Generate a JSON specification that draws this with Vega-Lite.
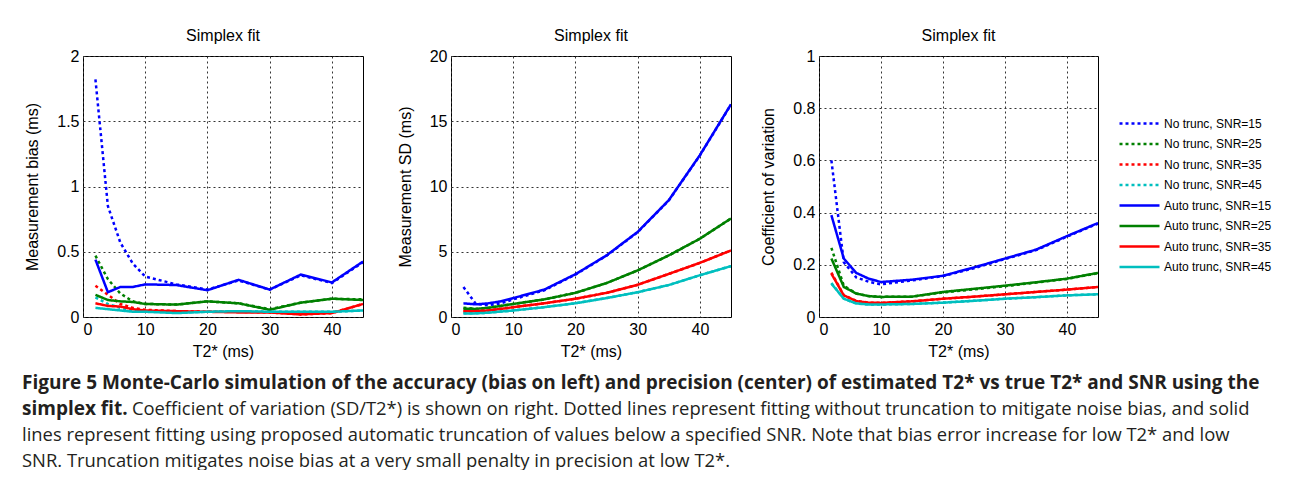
{
  "$schema": "https://vega.github.io/schema/vega-lite/v6.json",
  "background": "white",
  "padding": {"left": 22, "top": 27, "right": 0, "bottom": 0},
  "spacing": 88,
  "bounds": "flush",
  "title": {
    "text": ["Figure 5 Monte-Carlo simulation of the accuracy (bias on left) and precision (center) of estimated T2* vs true T2* and SNR using the", "simplex fit."],
    "subtitle": ["\u200b\u00a0\u00a0\u00a0\u00a0\u00a0\u00a0\u00a0\u00a0\u00a0\u00a0\u00a0\u00a0\u00a0\u00a0\u00a0\u00a0\u00a0\u00a0\u00a0\u00a0\u00a0\u00a0\u00a0Coefficient of variation (SD/T2*) is shown on right. Dotted lines represent fitting without truncation to mitigate noise bias, and solid", "lines represent fitting using proposed automatic truncation of values below a specified SNR. Note that bias error increase for low T2* and low", "SNR. Truncation mitigates noise bias at a very small penalty in precision at low T2*."],
    "orient": "bottom",
    "anchor": "start",
    "frame": "group",
    "dx": -61,
    "offset": 14,
    "font": "Open Sans",
    "fontSize": 19,
    "fontWeight": "bold",
    "color": "#231f20",
    "lineHeight": 26,
    "subtitleFont": "Open Sans",
    "subtitleFontSize": 18.4,
    "subtitleFontWeight": "normal",
    "subtitleColor": "#231f20",
    "subtitleLineHeight": 26,
    "subtitlePadding": -19
  },
  "config": {
    "font": "Liberation Sans",
    "view": {"stroke": "black", "strokeWidth": 1},
    "title": {"font": "Liberation Sans", "fontSize": 16, "fontWeight": "normal", "color": "black", "offset": 4},
    "axis": {
      "domain": false,
      "ticks": false,
      "labelFont": "Liberation Sans",
      "labelFontSize": 16,
      "labelColor": "black",
      "labelPadding": 4,
      "titleFont": "Liberation Sans",
      "titleFontSize": 16,
      "titleFontWeight": "normal",
      "titleColor": "black",
      "grid": true,
      "gridColor": "#333333",
      "gridDash": [2, 3],
      "gridWidth": 1
    },
    "axisX": {"titlePadding": 6},
    "axisY": {"titlePadding": 16},
    "legend": {
      "orient": "none",
      "legendX": 1050,
      "legendY": 61,
      "symbolType": "M-4,0H4",
      "symbolSize": 100,
      "symbolStrokeWidth": 2.5,
      "labelFont": "Liberation Sans",
      "labelFontSize": 12,
      "labelColor": "black",
      "labelOffset": 18,
      "rowPadding": 7.5
    }
  },
  "datasets": {
    "sim": [
      {"s": "No trunc, SNR=15", "t": 2, "bias": 1.82, "sd": 2.3, "cv": 0.6},
      {"s": "No trunc, SNR=15", "t": 4, "bias": 0.85, "sd": 1.0, "cv": 0.21},
      {"s": "No trunc, SNR=15", "t": 6, "bias": 0.57, "sd": 0.9, "cv": 0.152},
      {"s": "No trunc, SNR=15", "t": 8, "bias": 0.41, "sd": 1.05, "cv": 0.135},
      {"s": "No trunc, SNR=15", "t": 10, "bias": 0.31, "sd": 1.35, "cv": 0.125},
      {"s": "No trunc, SNR=15", "t": 15, "bias": 0.25, "sd": 2.05, "cv": 0.14},
      {"s": "No trunc, SNR=15", "t": 20, "bias": 0.21, "sd": 3.25, "cv": 0.157},
      {"s": "No trunc, SNR=15", "t": 25, "bias": 0.28, "sd": 4.7, "cv": 0.187},
      {"s": "No trunc, SNR=15", "t": 30, "bias": 0.21, "sd": 6.5, "cv": 0.222},
      {"s": "No trunc, SNR=15", "t": 35, "bias": 0.32, "sd": 8.93, "cv": 0.256},
      {"s": "No trunc, SNR=15", "t": 40, "bias": 0.26, "sd": 12.38, "cv": 0.308},
      {"s": "No trunc, SNR=15", "t": 45, "bias": 0.42, "sd": 16.28, "cv": 0.358},
      {"s": "No trunc, SNR=25", "t": 2, "bias": 0.47, "sd": 0.7, "cv": 0.265},
      {"s": "No trunc, SNR=25", "t": 4, "bias": 0.29, "sd": 0.62, "cv": 0.12},
      {"s": "No trunc, SNR=25", "t": 6, "bias": 0.18, "sd": 0.7, "cv": 0.09},
      {"s": "No trunc, SNR=25", "t": 8, "bias": 0.12, "sd": 0.85, "cv": 0.08},
      {"s": "No trunc, SNR=25", "t": 10, "bias": 0.1, "sd": 1.0, "cv": 0.077},
      {"s": "No trunc, SNR=25", "t": 15, "bias": 0.095, "sd": 1.35, "cv": 0.078},
      {"s": "No trunc, SNR=25", "t": 20, "bias": 0.12, "sd": 1.85, "cv": 0.094},
      {"s": "No trunc, SNR=25", "t": 25, "bias": 0.105, "sd": 2.6, "cv": 0.106},
      {"s": "No trunc, SNR=25", "t": 30, "bias": 0.06, "sd": 3.57, "cv": 0.118},
      {"s": "No trunc, SNR=25", "t": 35, "bias": 0.11, "sd": 4.72, "cv": 0.132},
      {"s": "No trunc, SNR=25", "t": 40, "bias": 0.14, "sd": 6.0, "cv": 0.146},
      {"s": "No trunc, SNR=25", "t": 45, "bias": 0.135, "sd": 7.55, "cv": 0.168},
      {"s": "No trunc, SNR=35", "t": 2, "bias": 0.24, "sd": 0.48, "cv": 0.17},
      {"s": "No trunc, SNR=35", "t": 4, "bias": 0.17, "sd": 0.45, "cv": 0.083},
      {"s": "No trunc, SNR=35", "t": 6, "bias": 0.1, "sd": 0.5, "cv": 0.062},
      {"s": "No trunc, SNR=35", "t": 8, "bias": 0.07, "sd": 0.62, "cv": 0.055},
      {"s": "No trunc, SNR=35", "t": 10, "bias": 0.055, "sd": 0.75, "cv": 0.054},
      {"s": "No trunc, SNR=35", "t": 15, "bias": 0.045, "sd": 1.05, "cv": 0.06},
      {"s": "No trunc, SNR=35", "t": 20, "bias": 0.04, "sd": 1.4, "cv": 0.07},
      {"s": "No trunc, SNR=35", "t": 25, "bias": 0.04, "sd": 1.85, "cv": 0.078},
      {"s": "No trunc, SNR=35", "t": 30, "bias": 0.035, "sd": 2.47, "cv": 0.087},
      {"s": "No trunc, SNR=35", "t": 35, "bias": 0.02, "sd": 3.3, "cv": 0.096},
      {"s": "No trunc, SNR=35", "t": 40, "bias": 0.03, "sd": 4.15, "cv": 0.105},
      {"s": "No trunc, SNR=35", "t": 45, "bias": 0.1, "sd": 5.1, "cv": 0.115},
      {"s": "No trunc, SNR=45", "t": 2, "bias": 0.15, "sd": 0.3, "cv": 0.13},
      {"s": "No trunc, SNR=45", "t": 4, "bias": 0.1, "sd": 0.28, "cv": 0.07},
      {"s": "No trunc, SNR=45", "t": 6, "bias": 0.07, "sd": 0.33, "cv": 0.052},
      {"s": "No trunc, SNR=45", "t": 8, "bias": 0.05, "sd": 0.42, "cv": 0.048},
      {"s": "No trunc, SNR=45", "t": 10, "bias": 0.045, "sd": 0.5, "cv": 0.048},
      {"s": "No trunc, SNR=45", "t": 15, "bias": 0.035, "sd": 0.75, "cv": 0.05},
      {"s": "No trunc, SNR=45", "t": 20, "bias": 0.04, "sd": 1.05, "cv": 0.055},
      {"s": "No trunc, SNR=45", "t": 25, "bias": 0.045, "sd": 1.45, "cv": 0.062},
      {"s": "No trunc, SNR=45", "t": 30, "bias": 0.04, "sd": 1.9, "cv": 0.07},
      {"s": "No trunc, SNR=45", "t": 35, "bias": 0.04, "sd": 2.45, "cv": 0.076},
      {"s": "No trunc, SNR=45", "t": 40, "bias": 0.04, "sd": 3.2, "cv": 0.083},
      {"s": "No trunc, SNR=45", "t": 45, "bias": 0.05, "sd": 3.9, "cv": 0.087},
      {"s": "Auto trunc, SNR=15", "t": 2, "bias": 0.44, "sd": 1.05, "cv": 0.39},
      {"s": "Auto trunc, SNR=15", "t": 4, "bias": 0.19, "sd": 0.97, "cv": 0.224},
      {"s": "Auto trunc, SNR=15", "t": 6, "bias": 0.23, "sd": 1.05, "cv": 0.169},
      {"s": "Auto trunc, SNR=15", "t": 8, "bias": 0.23, "sd": 1.2, "cv": 0.147},
      {"s": "Auto trunc, SNR=15", "t": 10, "bias": 0.25, "sd": 1.45, "cv": 0.134},
      {"s": "Auto trunc, SNR=15", "t": 15, "bias": 0.245, "sd": 2.1, "cv": 0.143},
      {"s": "Auto trunc, SNR=15", "t": 20, "bias": 0.205, "sd": 3.28, "cv": 0.158},
      {"s": "Auto trunc, SNR=15", "t": 25, "bias": 0.285, "sd": 4.72, "cv": 0.19},
      {"s": "Auto trunc, SNR=15", "t": 30, "bias": 0.21, "sd": 6.52, "cv": 0.224},
      {"s": "Auto trunc, SNR=15", "t": 35, "bias": 0.325, "sd": 8.95, "cv": 0.258},
      {"s": "Auto trunc, SNR=15", "t": 40, "bias": 0.265, "sd": 12.4, "cv": 0.31},
      {"s": "Auto trunc, SNR=15", "t": 45, "bias": 0.425, "sd": 16.3, "cv": 0.36},
      {"s": "Auto trunc, SNR=25", "t": 2, "bias": 0.17, "sd": 0.64, "cv": 0.224},
      {"s": "Auto trunc, SNR=25", "t": 4, "bias": 0.13, "sd": 0.62, "cv": 0.115},
      {"s": "Auto trunc, SNR=25", "t": 6, "bias": 0.12, "sd": 0.7, "cv": 0.09},
      {"s": "Auto trunc, SNR=25", "t": 8, "bias": 0.115, "sd": 0.85, "cv": 0.08},
      {"s": "Auto trunc, SNR=25", "t": 10, "bias": 0.1, "sd": 1.0, "cv": 0.077},
      {"s": "Auto trunc, SNR=25", "t": 15, "bias": 0.095, "sd": 1.35, "cv": 0.078},
      {"s": "Auto trunc, SNR=25", "t": 20, "bias": 0.12, "sd": 1.85, "cv": 0.096},
      {"s": "Auto trunc, SNR=25", "t": 25, "bias": 0.105, "sd": 2.6, "cv": 0.108},
      {"s": "Auto trunc, SNR=25", "t": 30, "bias": 0.055, "sd": 3.57, "cv": 0.12},
      {"s": "Auto trunc, SNR=25", "t": 35, "bias": 0.11, "sd": 4.72, "cv": 0.133},
      {"s": "Auto trunc, SNR=25", "t": 40, "bias": 0.14, "sd": 6.0, "cv": 0.147},
      {"s": "Auto trunc, SNR=25", "t": 45, "bias": 0.13, "sd": 7.55, "cv": 0.169},
      {"s": "Auto trunc, SNR=35", "t": 2, "bias": 0.105, "sd": 0.44, "cv": 0.166},
      {"s": "Auto trunc, SNR=35", "t": 4, "bias": 0.085, "sd": 0.45, "cv": 0.083},
      {"s": "Auto trunc, SNR=35", "t": 6, "bias": 0.08, "sd": 0.5, "cv": 0.061},
      {"s": "Auto trunc, SNR=35", "t": 8, "bias": 0.06, "sd": 0.62, "cv": 0.055},
      {"s": "Auto trunc, SNR=35", "t": 10, "bias": 0.05, "sd": 0.75, "cv": 0.054},
      {"s": "Auto trunc, SNR=35", "t": 15, "bias": 0.045, "sd": 1.05, "cv": 0.06},
      {"s": "Auto trunc, SNR=35", "t": 20, "bias": 0.04, "sd": 1.4, "cv": 0.07},
      {"s": "Auto trunc, SNR=35", "t": 25, "bias": 0.035, "sd": 1.85, "cv": 0.078},
      {"s": "Auto trunc, SNR=35", "t": 30, "bias": 0.035, "sd": 2.47, "cv": 0.087},
      {"s": "Auto trunc, SNR=35", "t": 35, "bias": 0.02, "sd": 3.3, "cv": 0.096},
      {"s": "Auto trunc, SNR=35", "t": 40, "bias": 0.03, "sd": 4.15, "cv": 0.105},
      {"s": "Auto trunc, SNR=35", "t": 45, "bias": 0.1, "sd": 5.1, "cv": 0.115},
      {"s": "Auto trunc, SNR=45", "t": 2, "bias": 0.07, "sd": 0.26, "cv": 0.128},
      {"s": "Auto trunc, SNR=45", "t": 4, "bias": 0.06, "sd": 0.28, "cv": 0.07},
      {"s": "Auto trunc, SNR=45", "t": 6, "bias": 0.05, "sd": 0.33, "cv": 0.052},
      {"s": "Auto trunc, SNR=45", "t": 8, "bias": 0.04, "sd": 0.42, "cv": 0.048},
      {"s": "Auto trunc, SNR=45", "t": 10, "bias": 0.04, "sd": 0.5, "cv": 0.048},
      {"s": "Auto trunc, SNR=45", "t": 15, "bias": 0.03, "sd": 0.75, "cv": 0.05},
      {"s": "Auto trunc, SNR=45", "t": 20, "bias": 0.04, "sd": 1.05, "cv": 0.055},
      {"s": "Auto trunc, SNR=45", "t": 25, "bias": 0.045, "sd": 1.45, "cv": 0.062},
      {"s": "Auto trunc, SNR=45", "t": 30, "bias": 0.04, "sd": 1.9, "cv": 0.07},
      {"s": "Auto trunc, SNR=45", "t": 35, "bias": 0.04, "sd": 2.45, "cv": 0.076},
      {"s": "Auto trunc, SNR=45", "t": 40, "bias": 0.04, "sd": 3.2, "cv": 0.083},
      {"s": "Auto trunc, SNR=45", "t": 45, "bias": 0.05, "sd": 3.9, "cv": 0.087}
    ]
  },
  "hconcat": [
    {
      "width": 280, "height": 261,
      "title": "Simplex fit",
      "data": {"name": "sim"},
      "mark": {"type": "line", "strokeWidth": 2.5, "clip": true},
      "encoding": {
        "x": {"field": "t", "type": "quantitative", "scale": {"domain": [0, 45], "nice": false}, "axis": {"values": [0, 10, 20, 30, 40], "title": "T2* (ms)"}},
        "y": {"field": "bias", "type": "quantitative", "scale": {"domain": [0, 2], "nice": false}, "axis": {"values": [0, 0.5, 1, 1.5, 2], "format": "~g", "title": "Measurement bias (ms)"}},
        "color": {"field": "s", "type": "nominal", "title": null,
          "scale": {"domain": ["No trunc, SNR=15", "No trunc, SNR=25", "No trunc, SNR=35", "No trunc, SNR=45", "Auto trunc, SNR=15", "Auto trunc, SNR=25", "Auto trunc, SNR=35", "Auto trunc, SNR=45"],
                    "range": ["#0000ff", "#008000", "#ff0000", "#00bfbf", "#0000ff", "#008000", "#ff0000", "#00bfbf"]}},
        "strokeDash": {"field": "s", "type": "nominal", "title": null,
          "scale": {"domain": ["No trunc, SNR=15", "No trunc, SNR=25", "No trunc, SNR=35", "No trunc, SNR=45", "Auto trunc, SNR=15", "Auto trunc, SNR=25", "Auto trunc, SNR=35", "Auto trunc, SNR=45"],
                    "range": [[3, 3], [3, 3], [3, 3], [3, 3], [1, 0], [1, 0], [1, 0], [1, 0]]}}
      }
    },
    {
      "width": 280, "height": 261,
      "title": "Simplex fit",
      "data": {"name": "sim"},
      "mark": {"type": "line", "strokeWidth": 2.5, "clip": true},
      "encoding": {
        "x": {"field": "t", "type": "quantitative", "scale": {"domain": [0, 45], "nice": false}, "axis": {"values": [0, 10, 20, 30, 40], "title": "T2* (ms)"}},
        "y": {"field": "sd", "type": "quantitative", "scale": {"domain": [0, 20], "nice": false}, "axis": {"values": [0, 5, 10, 15, 20], "format": "~g", "title": "Measurement SD (ms)"}},
        "color": {"field": "s", "type": "nominal", "title": null},
        "strokeDash": {"field": "s", "type": "nominal", "title": null}
      }
    },
    {
      "width": 279, "height": 261,
      "title": "Simplex fit",
      "data": {"name": "sim"},
      "mark": {"type": "line", "strokeWidth": 2.5, "clip": true},
      "encoding": {
        "x": {"field": "t", "type": "quantitative", "scale": {"domain": [0, 45], "nice": false}, "axis": {"values": [0, 10, 20, 30, 40], "title": "T2* (ms)"}},
        "y": {"field": "cv", "type": "quantitative", "scale": {"domain": [0, 1], "nice": false}, "axis": {"values": [0, 0.2, 0.4, 0.6, 0.8, 1], "format": "~g", "title": "Coefficient of variation"}},
        "color": {"field": "s", "type": "nominal", "title": null},
        "strokeDash": {"field": "s", "type": "nominal", "title": null}
      }
    }
  ]
}
